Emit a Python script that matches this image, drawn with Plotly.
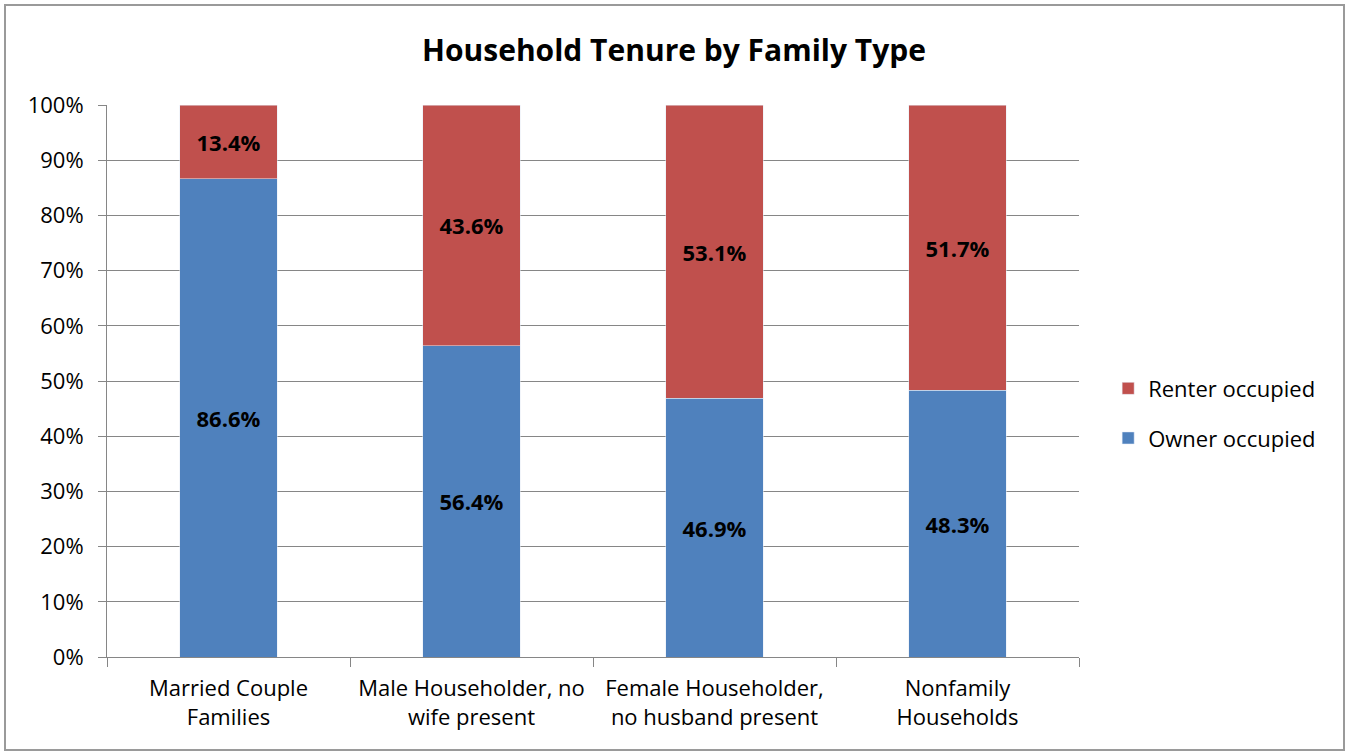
import plotly.graph_objects as go

categories = ["Married Couple<br>Families", "Male Householder, no<br>wife present",
              "Female Householder,<br>no husband present", "Nonfamily<br>Households"]
owner = [86.6, 56.4, 46.9, 48.3]
renter = [13.4, 43.6, 53.1, 51.7]
tick_vals = [0, 10, 20, 30, 40, 50, 60, 70, 80, 90, 100]
tick_text = [f"{v}%" for v in tick_vals]

FONT = "'Open Sans', Lato, sans-serif"
GRID = "#868686"

fig = go.Figure()
fig.add_trace(go.Bar(
    x=categories, y=owner, name="Owner occupied", marker_color="#4F81BD",
    text=[f"{v:.1f}%" for v in owner], textposition="inside", insidetextanchor="middle",
    textfont=dict(family=FONT, size=22, color="black", weight="bold"),
    legendgroup="o", legendrank=2, width=0.4, textangle=0,
))
fig.add_trace(go.Bar(
    x=categories, y=renter, name="Renter occupied", marker_color="#C0504D",
    text=[f"{v:.1f}%" for v in renter], textposition="inside", insidetextanchor="middle",
    textfont=dict(family=FONT, size=22, color="black", weight="bold"),
    legendgroup="r", legendrank=1, width=0.4, textangle=0,
))

fig.update_layout(
    barmode="stack",
    width=1348, height=754,
    paper_bgcolor="white", plot_bgcolor="white",
    margin=dict(l=107, r=269, t=105, b=97),
    title=dict(text="<b>Household Tenure by Family Type</b>", x=0.5, xref="container",
               xanchor="center", y=1 - 50 / 754, yref="container", yanchor="middle",
               font=dict(family=FONT, size=30, color="black")),
    font=dict(family=FONT, size=22, color="black"),
    legend=dict(traceorder="grouped", tracegroupgap=18, x=1.03, xanchor="left",
                y=0.441, yanchor="middle", font=dict(family=FONT, size=22, color="black"),
                itemwidth=30, bgcolor="rgba(0,0,0,0)"),
    showlegend=True,
    uniformtext=dict(mode="show", minsize=22),
)
fig.update_yaxes(range=[0, 100], tickvals=tick_vals, ticktext=tick_text,
                 showgrid=True, gridcolor=GRID, gridwidth=1,
                 showline=True, linecolor=GRID, linewidth=1,
                 ticks="outside", ticklen=8, tickcolor=GRID, ticklabelstandoff=10,
                 tickfont=dict(family=FONT, size=22, color="black"),
                 zeroline=False)
fig.update_xaxes(showline=True, linecolor=GRID, linewidth=1,
                 ticks="outside", ticklen=9, tickcolor=GRID, tickson="boundaries",
                 ticklabelstandoff=12,
                 tickfont=dict(family=FONT, size=22, color="black"))

fig.add_shape(type="rect", xref="paper", yref="paper",
              x0=(5 - 107) / 972, x1=(1344 - 107) / 972,
              y0=(657 - 750) / 552, y1=(657 - 5) / 552,
              line=dict(color="#9a9a9a", width=2), fillcolor="rgba(0,0,0,0)", layer="below")

fig.write_html("out.html", config={"displayModeBar": False},
               post_script="document.body.style.margin='0';document.body.style.overflow='hidden';")
